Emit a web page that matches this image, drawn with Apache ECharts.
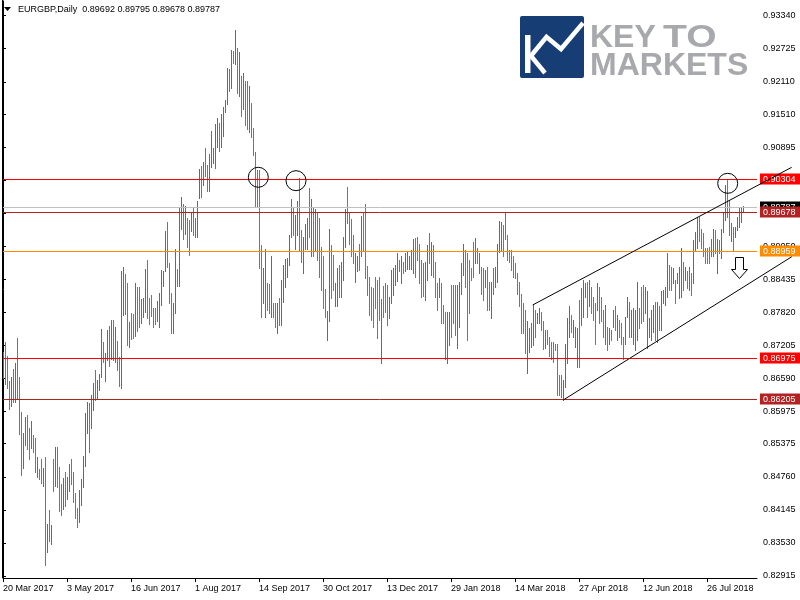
<!DOCTYPE html>
<html><head><meta charset="utf-8">
<script src="https://cdn.jsdelivr.net/npm/echarts@6/dist/echarts.min.js"></script>
<style>html,body{margin:0;padding:0;background:#fff}#c{width:800px;height:600px}</style>
</head><body><div id="c"></div>
<script>
// ---- data (EURGBP daily) ----
const highs = [
0.8708,0.8727,0.8700,0.8655,0.8661,0.8677,0.8688,0.8735,0.8661,0.8596,
0.8558,0.8587,0.8591,0.8567,0.8580,0.8554,0.8548,0.8512,0.8491,0.8509,
0.8492,0.8513,0.8389,0.8414,0.8386,0.8510,0.8531,0.8531,0.8494,0.8462,
0.8474,0.8485,0.8475,0.8500,0.8509,0.8485,0.8445,0.8417,0.8451,0.8472,
0.8514,0.8595,0.8615,0.8614,0.8628,0.8651,0.8675,0.8656,0.8668,0.8751,
0.8727,0.8707,0.8749,0.8756,0.8768,0.8768,0.8755,0.8728,0.8698,0.8859,
0.8866,0.8853,0.8836,0.8764,0.8780,0.8779,0.8836,0.8829,0.8829,0.8806,
0.8808,0.8863,0.8879,0.8809,0.8814,0.8790,0.8790,0.8804,0.8818,0.8861,
0.8859,0.8933,0.8950,0.8874,0.8818,0.8799,0.8899,0.8863,0.8978,0.8996,
0.8984,0.8979,0.8957,0.8954,0.8967,0.8978,0.8957,0.8989,0.9048,0.9055,
0.9062,0.9088,0.9057,0.9076,0.9120,0.9088,0.9133,0.9143,0.9135,0.9152,
0.9164,0.9177,0.9236,0.9235,0.9270,0.9268,0.9307,0.9273,0.9266,0.9222,
0.9228,0.9212,0.9212,0.9203,0.9171,0.9125,0.9081,0.9047,0.9047,0.8907,
0.8864,0.8900,0.8836,0.8835,0.8886,0.8799,0.8799,0.8799,0.8808,0.8842,
0.8870,0.8881,0.8883,0.8926,0.8992,0.8976,0.8963,0.8989,0.9032,0.8935,
0.8923,0.8946,0.8957,0.9013,0.8992,0.8976,0.8974,0.8969,0.8957,0.8904,
0.8886,0.8825,0.8785,0.8938,0.8907,0.8889,0.8836,0.8864,0.8870,0.8876,
0.8923,0.8974,0.9016,0.8969,0.8955,0.8926,0.8892,0.8887,0.8910,0.8961,
0.8969,0.8983,0.8868,0.8848,0.8830,0.8827,0.8847,0.8842,0.8848,0.8807,
0.8831,0.8836,0.8833,0.8811,0.8860,0.8864,0.8870,0.8892,0.8879,0.8887,
0.8875,0.8892,0.8896,0.8886,0.8898,0.8918,0.8920,0.8923,0.8910,0.8879,
0.8873,0.8876,0.8907,0.8930,0.8912,0.8907,0.8876,0.8836,0.8845,0.8836,
0.8796,0.8783,0.8783,0.8783,0.8833,0.8833,0.8833,0.8833,0.8839,0.8873,
0.8910,0.8898,0.8892,0.8879,0.8864,0.8912,0.8920,0.8901,0.8892,0.8867,
0.8864,0.8861,0.8867,0.8839,0.8839,0.8864,0.8867,0.8910,0.8952,0.8951,
0.8945,0.8969,0.8926,0.8898,0.8898,0.8886,0.8873,0.8855,0.8839,0.8817,
0.8799,0.8786,0.8765,0.8752,0.8762,0.8796,0.8786,0.8780,0.8790,0.8783,
0.8765,0.8749,0.8749,0.8737,0.8727,0.8727,0.8724,0.8724,0.8665,0.8665,
0.8656,0.8724,0.8771,0.8793,0.8777,0.8768,0.8755,0.8752,0.8805,0.8827,
0.8842,0.8836,0.8839,0.8842,0.8830,0.8811,0.8799,0.8836,0.8830,0.8811,
0.8786,0.8796,0.8755,0.8752,0.8749,0.8786,0.8793,0.8777,0.8768,0.8762,
0.8737,0.8774,0.8811,0.8802,0.8786,0.8790,0.8786,0.8839,0.8790,0.8830,
0.8833,0.8830,0.8821,0.8771,0.8786,0.8796,0.8802,0.8802,0.8793,0.8821,
0.8824,0.8830,0.8892,0.8870,0.8867,0.8864,0.8842,0.8855,0.8867,0.8901,
0.8876,0.8867,0.8858,0.8867,0.8855,0.8917,0.8932,0.8960,0.8960,0.8938,
0.8929,0.8901,0.8901,0.8904,0.8918,0.8938,0.8935,0.8918,0.8917,0.8937,
0.8968,0.9019,0.9030,0.8991,0.8948,0.8941,0.8941,0.8960,0.8977,0.8977,
0.89795
];
const lows = [
0.8659,0.8648,0.8642,0.8603,0.8608,0.8615,0.8616,0.8620,0.8555,0.8480,
0.8493,0.8536,0.8527,0.8510,0.8530,0.8523,0.8485,0.8475,0.8472,0.8464,
0.8459,0.8311,0.8336,0.8357,0.8350,0.8450,0.8459,0.8457,0.8412,0.8404,
0.8416,0.8421,0.8435,0.8450,0.8462,0.8430,0.8399,0.8382,0.8392,0.8424,
0.8457,0.8497,0.8558,0.8522,0.8567,0.8600,0.8618,0.8620,0.8638,0.8661,
0.8690,0.8655,0.8693,0.8683,0.8696,0.8693,0.8690,0.8675,0.8645,0.8642,
0.8777,0.8778,0.8721,0.8718,0.8733,0.8735,0.8738,0.8748,0.8755,0.8763,
0.8774,0.8782,0.8771,0.8761,0.8776,0.8755,0.8761,0.8766,0.8755,0.8796,
0.8831,0.8859,0.8866,0.8800,0.8743,0.8743,0.8780,0.8831,0.8831,0.8937,
0.8919,0.8927,0.8903,0.8889,0.8933,0.8926,0.8922,0.8922,0.8995,0.8996,
0.9019,0.9036,0.9008,0.9007,0.9052,0.9059,0.9050,0.9090,0.9082,0.9090,
0.9111,0.9155,0.9170,0.9194,0.9200,0.9246,0.9245,0.9191,0.9185,0.9148,
0.9161,0.9130,0.9123,0.9117,0.9109,0.9075,0.8980,0.8980,0.8864,0.8774,
0.8799,0.8774,0.8786,0.8780,0.8774,0.8774,0.8754,0.8744,0.8759,0.8759,
0.8802,0.8830,0.8848,0.8870,0.8922,0.8926,0.8899,0.8926,0.8898,0.8875,
0.8855,0.8899,0.8899,0.8923,0.8886,0.8886,0.8898,0.8879,0.8848,0.8824,
0.8790,0.8774,0.8731,0.8765,0.8808,0.8824,0.8793,0.8793,0.8811,0.8811,
0.8842,0.8904,0.8949,0.8910,0.8886,0.8873,0.8839,0.8858,0.8861,0.8886,
0.8898,0.8845,0.8814,0.8777,0.8768,0.8755,0.8790,0.8734,0.8768,0.8687,
0.8774,0.8783,0.8759,0.8771,0.8799,0.8814,0.8833,0.8841,0.8858,0.8836,
0.8855,0.8858,0.8862,0.8862,0.8862,0.8855,0.8848,0.8879,0.8836,0.8811,
0.8812,0.8805,0.8842,0.8873,0.8852,0.8848,0.8811,0.8786,0.8811,0.8762,
0.8762,0.8696,0.8687,0.8721,0.8737,0.8762,0.8740,0.8715,0.8755,0.8817,
0.8852,0.8830,0.8731,0.8780,0.8842,0.8848,0.8873,0.8873,0.8855,0.8817,
0.8805,0.8830,0.8786,0.8786,0.8771,0.8817,0.8830,0.8839,0.8895,0.8898,
0.8886,0.8918,0.8879,0.8876,0.8861,0.8848,0.8845,0.8817,0.8793,0.8743,
0.8743,0.8707,0.8669,0.8709,0.8718,0.8721,0.8737,0.8762,0.8762,0.8749,
0.8713,0.8715,0.8724,0.8700,0.8696,0.8690,0.8712,0.8628,0.8628,0.8625,
0.8619,0.8644,0.8687,0.8737,0.8746,0.8737,0.8718,0.8681,0.8681,0.8759,
0.8774,0.8811,0.8774,0.8793,0.8780,0.8768,0.8724,0.8786,0.8762,0.8765,
0.8737,0.8724,0.8712,0.8724,0.8730,0.8755,0.8749,0.8730,0.8737,0.8724,
0.8696,0.8724,0.8774,0.8737,0.8737,0.8724,0.8712,0.8730,0.8752,0.8762,
0.8765,0.8780,0.8715,0.8737,0.8730,0.8746,0.8730,0.8727,0.8749,0.8749,
0.8799,0.8796,0.8811,0.8824,0.8824,0.8836,0.8799,0.8836,0.8808,0.8811,
0.8824,0.8842,0.8827,0.8824,0.8814,0.8836,0.8898,0.8901,0.8914,0.8901,
0.8886,0.8873,0.8873,0.8873,0.8886,0.8886,0.8892,0.8855,0.8892,0.8883,
0.8932,0.8954,0.8960,0.8926,0.8914,0.8896,0.8923,0.8935,0.8941,0.8951,
0.89678
];
// 1 = bullish bar (green), 0 = bearish bar (red)
const ups = [
1,0,0,0,1,0,1,0,0,0, 1,1,0,0,1,0,0,1,0,0, 1,0,1,0,1,0,1,0,0,0, 1,0,1,1,0,0,0,0,1,1,
1,1,1,0,1,1,0,1,1,1, 0,1,1,0,1,0,1,0,0,1, 1,0,0,1,0,0,1,0,0,1, 1,1,0,0,0,0,0,1,1,1,
1,1,0,0,0,1,1,0,1,1, 0,1,0,0,1,0,1,1,1,0, 1,0,0,1,1,1,1,1,0,1, 1,1,1,0,1,0,1,0,1,0,
1,0,0,1,0,0,0,0,0,0, 1,1,0,0,1,0,0,1,0,1, 1,1,1,1,1,0,1,1,0,0, 1,1,1,0,1,0,1,0,0,0,
0,0,1,1,0,0,1,1,0,1, 1,1,0,0,0,0,1,1,0,1, 0,0,0,0,0,0,0,0,0,1, 0,0,0,1,1,1,1,1,0,1,
0,1,1,1,1,1,0,0,0,0, 0,1,1,0,1,0,0,0,1,0, 0,0,1,1,0,0,0,1,1,1, 1,0,0,0,0,0,1,0,1,0,
0,1,0,0,1,0,1,1,1,1, 0,0,0,0,0,0,0,0,0,0, 0,0,1,1,1,1,0,1,1,0, 0,1,0,0,0,0,0,0,0,0,
1,1,1,1,0,1,1,1,0,1, 1,1,0,1,0,0,0,1,0,0, 0,1,0,1,0,1,0,1,0,0, 0,1,1,0,1,1,1,1,0,0,
0,1,1,1,1,1,0,1,0,1, 1,1,1,0,0,1,0,1,1,1, 0,1,0,1,0,1,1,1,0,0, 0,0,0,0,1,1,0,1,0,1,
1,1,0,0,1,0,1,1,1,1, 1
];
const tickLabels = ['20 Mar 2017','3 May 2017','16 Jun 2017','1 Aug 2017','14 Sep 2017','30 Oct 2017',
  '13 Dec 2017','29 Jan 2018','14 Mar 2018','27 Apr 2018','12 Jun 2018','26 Jul 2018'];
const priceTicks = [0.93340,0.92725,0.92110,0.91510,0.90895,0.90280,0.89665,0.89050,0.88435,
  0.87820,0.87205,0.86590,0.85975,0.85375,0.84760,0.84145,0.83530,0.82915];
const levels = [0.90304, 0.89787, 0.89678, 0.88959, 0.86975, 0.86205];
const trendLines = [[264.85, 0.87957, 394.35, 0.90519], [280.15, 0.86189, 394.35, 0.88854]];
const circles = [[127.65, 0.90333], [146.5, 0.90270], [362.35, 0.90221]];
const arrows = [[368.15, 0.88855]];
const headerText = 'EURGBP,Daily  0.89692 0.89795 0.89678 0.89787';

// ---- styles ----
const FONT = '"Liberation Sans", Arial, sans-serif';
const UP = '#2E8B57', DOWN = '#FF4500';
const levelColors = ['#FF0000', '#C0C0C0', '#B22222', '#FF8C00', '#FF0000', '#B22222'];
const labelBg = ['#FF0000', '#000000', '#B22222', '#FF8C00', '#FF0000', '#B22222'];
const LOGO_GREY = '#A7A9AC';
const SLOTS = 378; // bar slots incl. right-side shift

// categories: trading days (weekdays, 1 Jan 2018 closed)
const categories = [];
(function () {
  const M = ['Jan','Feb','Mar','Apr','May','Jun','Jul','Aug','Sep','Oct','Nov','Dec'];
  const d = new Date(Date.UTC(2017, 2, 20));
  while (categories.length < highs.length) {
    const wd = d.getUTCDay();
    const hol = d.getUTCFullYear() === 2018 && d.getUTCMonth() === 0 && d.getUTCDate() === 1;
    if (wd !== 0 && wd !== 6 && !hol) categories.push(d.getUTCDate() + ' ' + M[d.getUTCMonth()] + ' ' + d.getUTCFullYear());
    d.setUTCDate(d.getUTCDate() + 1);
  }
  let k = 0;
  while (categories.length < SLOTS) categories.push('future' + (k++));
})();

const chart = echarts.init(document.getElementById('c'), null, {renderer: 'canvas'});
chart.setOption({
  animation: false,
  backgroundColor: '#fff',
  grid: {left: 3, right: 43, top: 1, bottom: 22, containLabel: false, outerBoundsMode: 'none'},
  xAxis: [{
    type: 'category', data: categories, boundaryGap: false,
    axisLine: {show: true, lineStyle: {color: '#000', width: 1}},
    axisTick: {show: true, interval: 31, length: 4, lineStyle: {color: '#000'}},
    axisLabel: {show: true, interval: 31, align: 'left', margin: 6,
      color: '#000', fontSize: 9, fontFamily: FONT,
      formatter: (v, idx) => (idx % 32 === 0 && tickLabels[idx / 32]) ? tickLabels[idx / 32] : ''},
    splitLine: {show: false}
  }, {
    type: 'value', min: 0, max: SLOTS - 1, show: false, splitLine: {show: false}
  }],
  yAxis: {
    type: 'value', position: 'right', min: 0.828766, max: 0.936135,
    axisLine: {show: true, lineStyle: {color: '#000', width: 1}},
    axisTick: {show: true, customValues: priceTicks, length: 3, lineStyle: {color: '#000'}},
    axisLabel: {show: true, customValues: priceTicks, margin: 6, color: '#000', fontSize: 9, fontFamily: FONT,
      formatter: v => v.toFixed(5)},
    splitLine: {show: false}
  },
  series: [{
    type: 'custom', name: 'bars', xAxisIndex: 0, z: 2,
    data: highs.map((h, i) => [i, h, lows[i], ups[i]]),
    encode: {x: 0, y: [1, 2]},
    renderItem: (params, api) => {
      const i = api.value(0);
      const a = api.coord([i, api.value(1)]);
      const b = api.coord([i, api.value(2)]);
      const x = Math.round(a[0]) + 0.5;
      return {type: 'line', shape: {x1: x, y1: Math.round(a[1]), x2: x, y2: Math.round(b[1]) + 1},
        style: {stroke: api.value(3) ? UP : DOWN, lineWidth: 1}};
    }
  }, {
    type: 'custom', name: 'levels', xAxisIndex: 1, z: 5,
    data: levels.map((v, k) => [k, v]),
    encode: {x: 0, y: 1},
    renderItem: (params, api) => {
      const k = api.value(0), v = api.value(1);
      const cs = params.coordSys;
      const y = Math.round(api.coord([0, v])[1]) + 0.5;
      const right = cs.x + cs.width;
      return {type: 'group', children: [
        {type: 'line', shape: {x1: cs.x - 1, y1: y, x2: right, y2: y}, style: {stroke: levelColors[k], lineWidth: 1}},
        {type: 'rect', shape: {x: right + 3, y: y - 6, width: api.getWidth() - right - 3, height: 11}, style: {fill: labelBg[k]}},
        {type: 'text', style: {x: right + 6, y: y, text: v.toFixed(5), fill: '#fff', font: '9px ' + FONT, verticalAlign: 'middle'}}
      ]};
    }
  }, {
    type: 'custom', name: 'trendlines', xAxisIndex: 1, z: 6,
    data: trendLines,
    encode: {x: [0, 2], y: [1, 3]},
    renderItem: (params, api) => {
      const p1 = api.coord([api.value(0), api.value(1)]);
      const p2 = api.coord([api.value(2), api.value(3)]);
      return {type: 'line', shape: {x1: p1[0], y1: p1[1], x2: p2[0], y2: p2[1]}, style: {stroke: '#000', lineWidth: 1}};
    }
  }, {
    type: 'custom', name: 'circles', xAxisIndex: 1, z: 6,
    data: circles,
    encode: {x: 0, y: 1},
    renderItem: (params, api) => {
      const c = api.coord([api.value(0), api.value(1)]);
      return {type: 'circle', shape: {cx: c[0], cy: c[1], r: 10}, style: {stroke: '#000', fill: 'none', lineWidth: 1}};
    }
  }, {
    type: 'custom', name: 'arrow', xAxisIndex: 1, z: 6,
    data: arrows,
    encode: {x: 0, y: 1},
    renderItem: (params, api) => {
      const c = api.coord([api.value(0), api.value(1)]);
      const x = Math.round(c[0]) + 0.5, y = Math.round(c[1]) + 0.5;
      return {type: 'polygon', shape: {points: [[x - 4, y], [x + 4, y], [x + 4, y + 12], [x + 8, y + 12], [x, y + 21], [x - 8, y + 12], [x - 4, y + 12]]},
        style: {stroke: '#000', fill: '#fff', lineWidth: 1}};
    }
  }],
  graphic: [
    {type: 'line', shape: {x1: 2.5, y1: 0, x2: 2.5, y2: 578}, style: {stroke: '#000', lineWidth: 1}, z: 10},
    {type: 'polygon', shape: {points: [[4, 7], [11, 7], [7.5, 11]]}, style: {fill: '#000'}, z: 10},
    {type: 'text', style: {x: 18, y: 10, text: headerText, font: '9px ' + FONT, fill: '#000', verticalAlign: 'middle'}, z: 10},
    {type: 'rect', shape: {x: 520, y: 16, width: 64, height: 62, r: 2}, style: {fill: '#163D74'}, z: 10},
    {type: 'rect', shape: {x: 525, y: 35, width: 5.5, height: 38}, style: {fill: '#fff'}, z: 11},
    {type: 'polyline', shape: {points: [[530, 57], [546.5, 37], [561, 49], [583, 23]]}, style: {stroke: '#fff', lineWidth: 4.5, fill: 'none'}, z: 11},
    {type: 'line', shape: {x1: 531, y1: 56, x2: 545, y2: 73}, style: {stroke: '#fff', lineWidth: 4.5}, z: 11},
    {type: 'text', style: {x: 590, y: 38, text: 'KEY', font: 'bold 32px ' + FONT, fill: LOGO_GREY, verticalAlign: 'middle'}, z: 10},
    {type: 'text', x: 663, y: 38, scaleX: 1.22, style: {x: 0, y: 0, text: 'TO', font: 'bold 32px ' + FONT, fill: LOGO_GREY, verticalAlign: 'middle'}, z: 10},
    {type: 'text', style: {x: 590, y: 66, text: 'MARKETS', font: 'bold 32px ' + FONT, fill: LOGO_GREY, verticalAlign: 'middle'}, z: 10}
  ]
});
</script>
</body></html>
